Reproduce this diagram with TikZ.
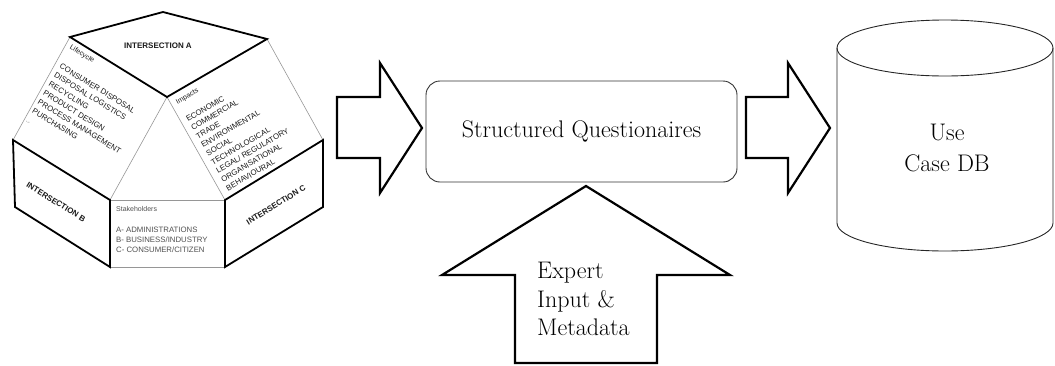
\documentclass[tikz,border=0pt]{standalone}
\usepackage{fontspec}
\newfontfamily\panelfont{Liberation Sans}
\usetikzlibrary{positioning}

\begin{document}
\begin{tikzpicture}[x=1pt, y=-1pt,
        thinedge/.style={draw=edgegray, line width=0.6pt},
        thickedge/.style={draw=black, line width=1.8pt, line join=miter},
        blockarrow/.style={draw=black, fill=white, line width=2.2pt, line join=miter},
        panellabel/.style={font=\panelfont\fontsize{7}{8}\selectfont, text=textgray, inner sep=0pt},
        panellist/.style={font=\panelfont\fontsize{7.8}{10}\selectfont, text=textgray, align=left, inner sep=0pt},
        sectlabel/.style={font=\panelfont\bfseries\fontsize{8}{9}\selectfont, text=textgray, inner sep=0pt},
        bigtext/.style={font=\fontsize{24}{28.5}\selectfont, inner sep=0pt}]
    % -- colour definitions --------------------------------------------------
    \definecolor{edgegray}{RGB}{150,150,150}
    \definecolor{textgray}{RGB}{25,25,25}
    \definecolor{stakegray}{RGB}{80,80,80}

    \useasboundingbox (0,0) rectangle (1055,365);

    % -- thin panel edges ----------------------------------------------------
    \foreach \ax/\ay/\bx/\by in {70/37/13/140, 167/97/110/200, 167/97/225/200,
                                 267/39/323/140, 110/200/225/200, 110/267/225/267} {
        \draw[thinedge] (\ax,\ay) -- (\bx,\by);
    }

    % -- intersection faces --------------------------------------------------
    \draw[thickedge] (163,12) -- (267,39) -- (167,97) -- (70,37) -- cycle;
    \draw[thickedge] (13,140) -- (110,200) -- (110,267) -- (15,207) -- cycle;
    \draw[thickedge] (225,200) -- (323,140) -- (323,207) -- (225,267) -- cycle;

    \node[sectlabel] (secta) at (158,46) {INTERSECTION A};
    \node[sectlabel, rotate=-31.7] (sectb) at (56,202) {INTERSECTION B};
    \node[sectlabel, rotate=31.5] (sectc) at (276,205) {INTERSECTION C};

    % -- lifecycle panel -----------------------------------------------------
    \node[panellabel, anchor=north west, rotate=-31.7] (lifelabel) at (72,44) {Lifecycle};
    \node[panellist, anchor=north west, rotate=-31.7, font=\panelfont\fontsize{7.8}{10.5}\selectfont]
        (lifelist) at (62,63)
        {CONSUMER DISPOSAL\\DISPOSAL LOGISTICS\\RECYCLING\\PRODUCT DESIGN\\
         PROCESS MANAGEMENT\\PURCHASING\\{\fontsize{5}{10.5}\selectfont ...}};

    % -- impacts panel -------------------------------------------------------
    \node[panellabel, anchor=north west, rotate=30.1] (implabel) at (175,100) {Impacts};
    \node[panellist, anchor=north west, rotate=30.1] (implist) at (185,117)
        {ECONOMIC\\COMMERCIAL\\TRADE\\ENVIRONMENTAL\\SOCIAL\\TECHNOLOGICAL\\
         LEGAL/ REGULATORY\\ORGANISATIONAL\\BEHAVIOURAL};

    % -- stakeholders panel --------------------------------------------------
    \node[panellabel, text=stakegray, anchor=north west] (stakelabel) at (116,206) {Stakeholders};
    \node[panellist, text=stakegray, anchor=north west] (stakelist) at (116,227)
        {A- ADMINISTRATIONS\\B- BUSINESS/INDUSTRY\\C- CONSUMER/CITIZEN};

    % -- block arrows --------------------------------------------------------
    \draw[blockarrow] (337,97) -- (380,97) -- (380,63) -- (422,128)
        -- (380,193) -- (380,158) -- (337,158) -- cycle;
    \draw[blockarrow] (746,97) -- (788,97) -- (788,63) -- (830,128)
        -- (788,193) -- (788,158) -- (746,158) -- cycle;
    \draw[blockarrow] (515,363) -- (515,275) -- (442,275) -- (586,186)
        -- (730,275) -- (657,275) -- (657,363) -- cycle;

    % -- questionnaire box ---------------------------------------------------
    \node[bigtext, draw=black!80, line width=0.9pt, rounded corners=14pt,
          minimum width=311pt, minimum height=101pt] (quest) at (581.5,131.5)
        {Structured Questionaires};

    \node[bigtext, align=left, anchor=west] (expert) at (537,299)
        {Expert\\Input \&\\Metadata};

    % -- use case database ---------------------------------------------------
    \draw[black!85, line width=0.9pt] (837,48) -- (837,223)
        arc[start angle=180, end angle=0, x radius=108, y radius=28] -- (1053,48);
    \draw[black!85, line width=0.9pt] (945,48) ellipse [x radius=108, y radius=28];
    \node[bigtext, align=center, font=\fontsize{24}{31}\selectfont] (usecase) at (947,148)
        {Use\\Case DB};
\end{tikzpicture}
\end{document}
